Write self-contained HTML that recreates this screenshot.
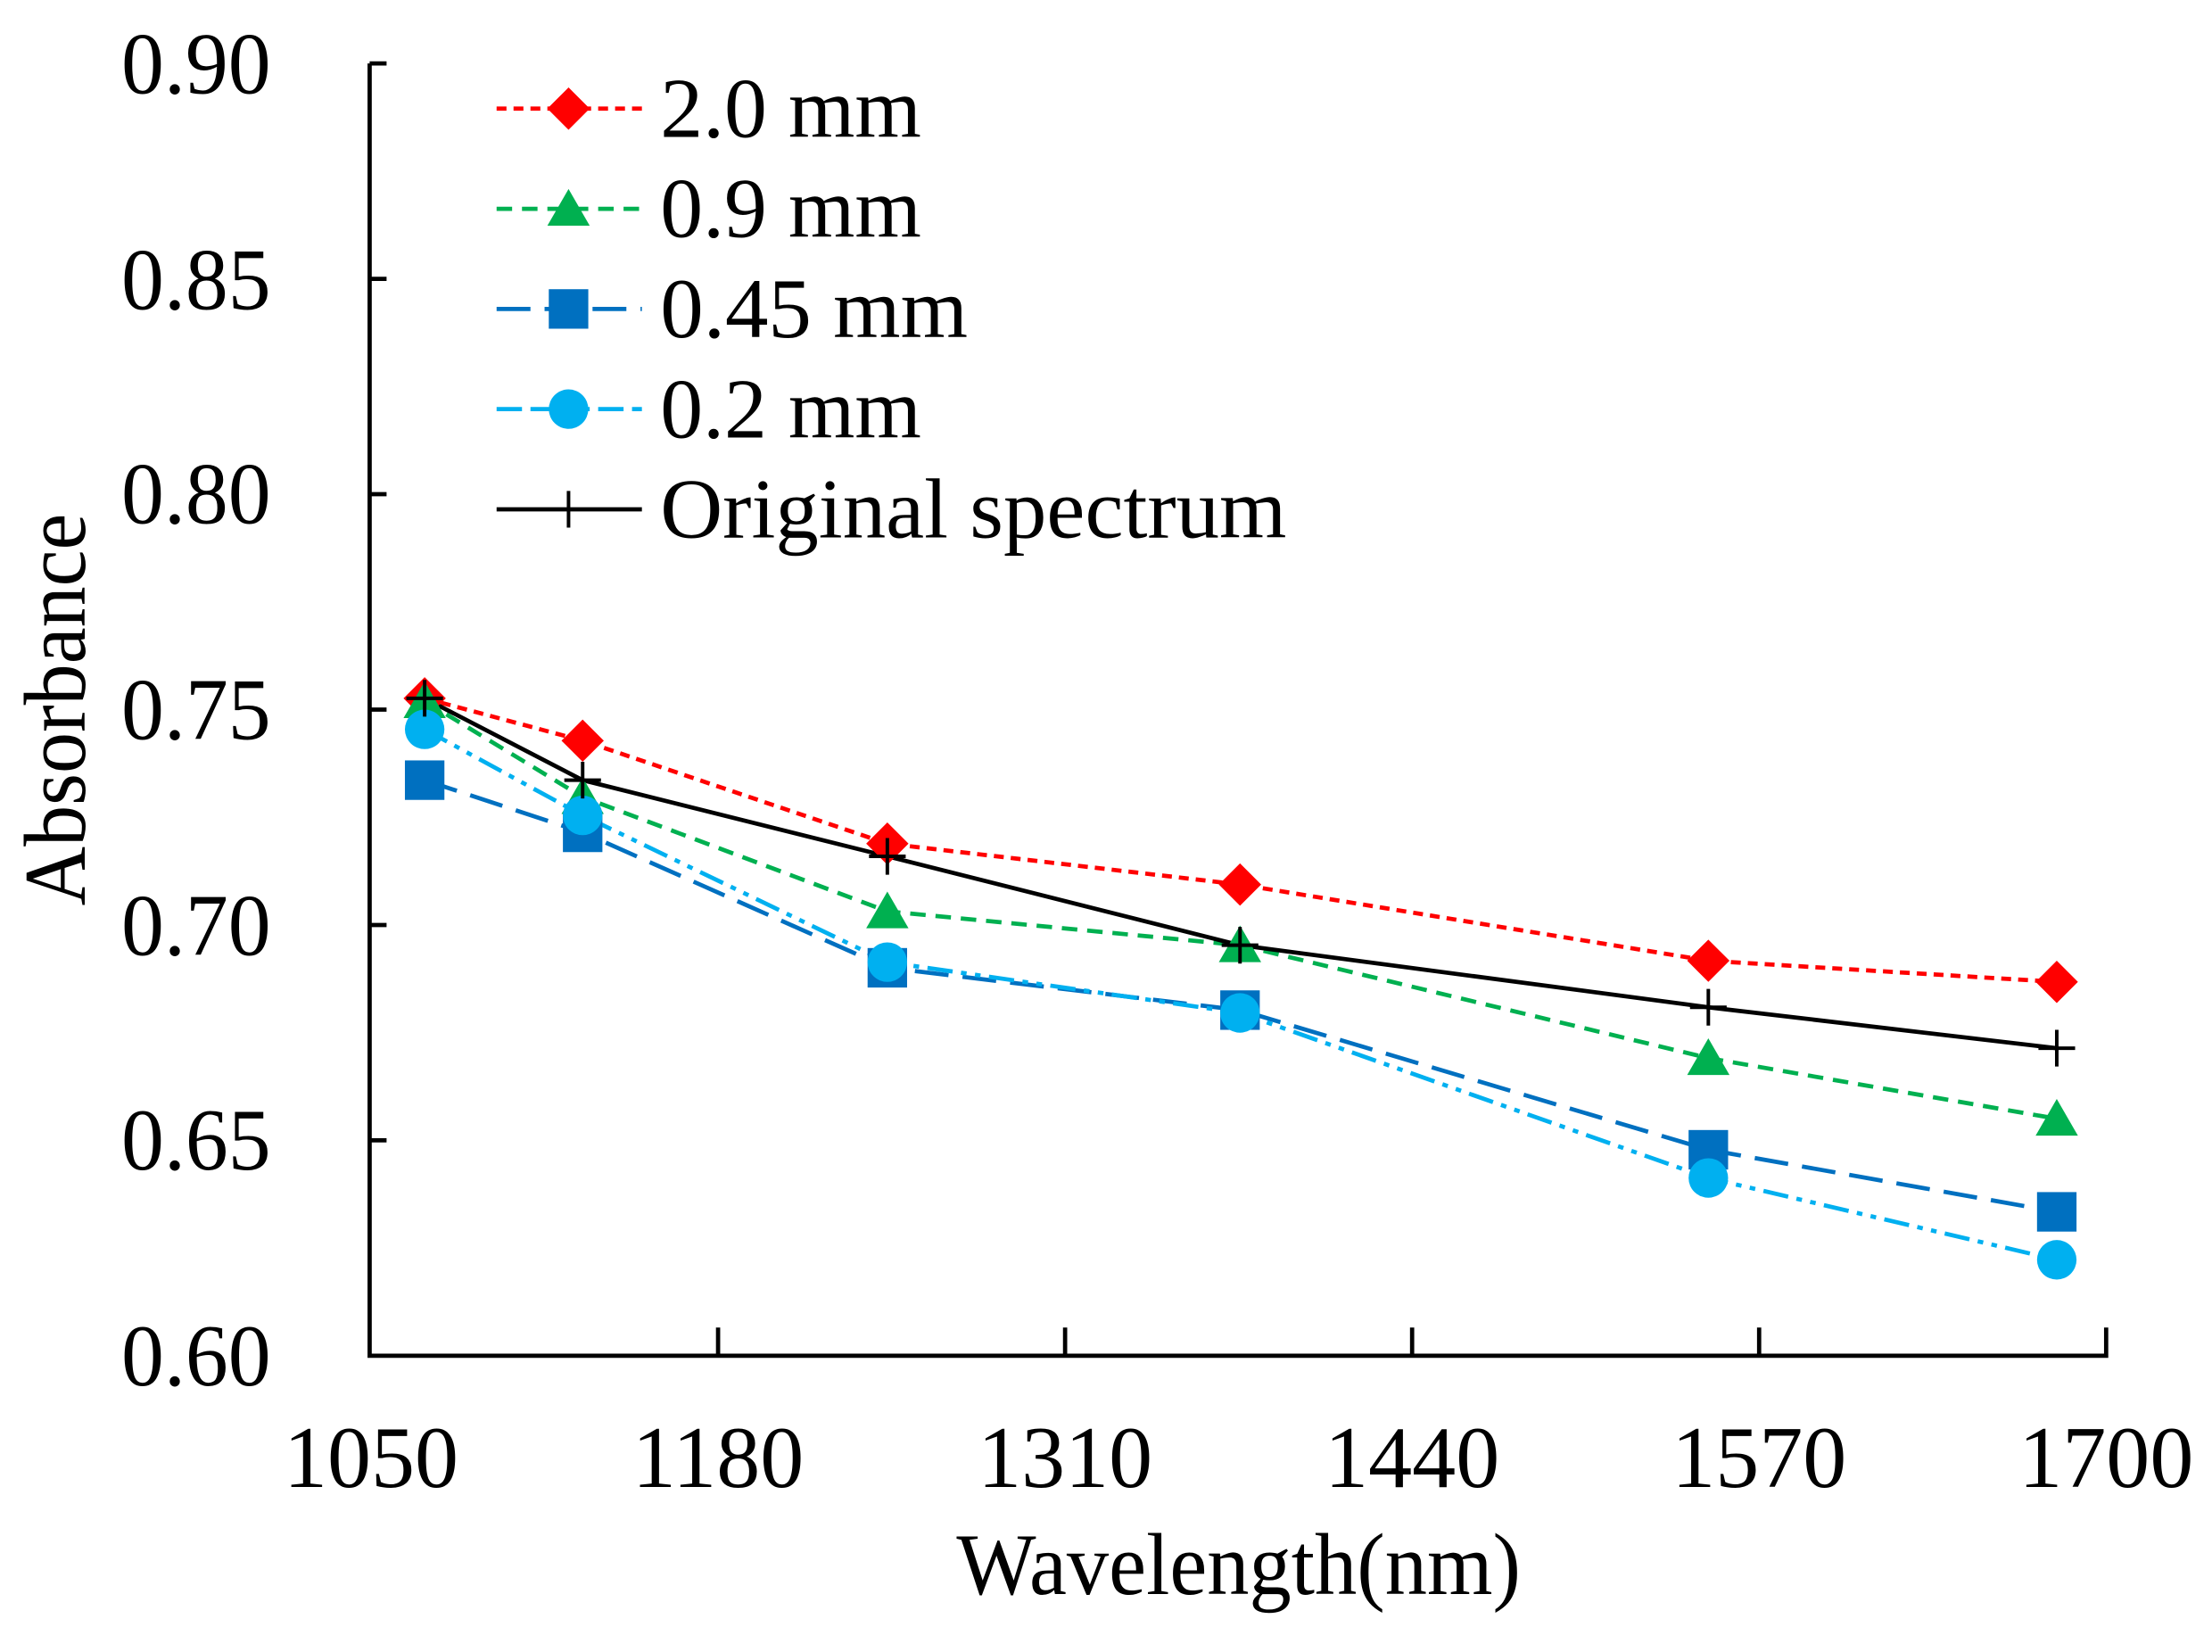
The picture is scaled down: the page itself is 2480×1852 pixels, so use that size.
<!DOCTYPE html>
<html><head><meta charset="utf-8"><style>
html,body{margin:0;padding:0;background:#fff;}
svg{display:block;}
text{font-family:"Liberation Serif",serif;fill:#000;}
</style></head><body>
<svg width="2480" height="1852" viewBox="0 0 1568 1171" xmlns="http://www.w3.org/2000/svg">
<rect width="1568" height="1171" fill="#fff"/>
<g stroke="#000" stroke-width="3" fill="none">
<path d="M262,45 V961 H1493 V941"/>
<path d="M262,45 h12 M262,197.7 h12 M262,350.3 h12 M262,503 h12 M262,655.7 h12 M262,808.3 h12"/>
<path d="M509,961 v-20 M755,961 v-20 M1001,961 v-20 M1247,961 v-20"/>
</g>
<g font-size="62" text-anchor="end">
<text x="192" y="66" textLength="106" lengthAdjust="spacingAndGlyphs">0.90</text>
<text x="192" y="219" textLength="106" lengthAdjust="spacingAndGlyphs">0.85</text>
<text x="192" y="371" textLength="106" lengthAdjust="spacingAndGlyphs">0.80</text>
<text x="192" y="524" textLength="106" lengthAdjust="spacingAndGlyphs">0.75</text>
<text x="192" y="677" textLength="106" lengthAdjust="spacingAndGlyphs">0.70</text>
<text x="192" y="829" textLength="106" lengthAdjust="spacingAndGlyphs">0.65</text>
<text x="192" y="982" textLength="106" lengthAdjust="spacingAndGlyphs">0.60</text>
</g>
<g font-size="62" text-anchor="middle">
<text x="263" y="1054">1050</text>
<text x="509" y="1054">1180</text>
<text x="755" y="1054">1310</text>
<text x="1001" y="1054">1440</text>
<text x="1247" y="1054">1570</text>
<text x="1493" y="1054">1700</text>
<text x="878" y="1130" textLength="400" lengthAdjust="spacingAndGlyphs">Wavelength(nm)</text>
<text transform="translate(60,503) rotate(-90)" textLength="278" lengthAdjust="spacingAndGlyphs">Absorbance</text>
</g>
<g fill="none" stroke-width="3">
<polyline stroke="#ff0000" stroke-dasharray="7,5" points="301,495 413,525 629,598 879,627 1211,681 1458,696"/>
<polyline stroke="#00b050" stroke-dasharray="11,7" points="301,497 413,565 629,646 879,670 1211,750 1458,793"/>
<polyline stroke="#0070c0" stroke-dasharray="24,10" points="301,553 413,590 629,686 879,716 1211,815 1458,859"/>
<polyline stroke="#00b0f0" stroke-dasharray="18,6,4,6,4,6" points="301,517 413,578 629,682 879,718 1211,835 1458,893"/>
<polyline stroke="#000" points="301,495 413,553 629,607 879,670 1211,714 1458,743"/>
</g>
<g fill="#ff0000">
<path d="M301,480 l15,15 -15,15 -15,-15z M413,510 l15,15 -15,15 -15,-15z M629,583 l15,15 -15,15 -15,-15z M879,612 l15,15 -15,15 -15,-15z M1211,666 l15,15 -15,15 -15,-15z M1458,681 l15,15 -15,15 -15,-15z"/>
</g>
<g fill="#00b050">
<path d="M301,483 l15,26 h-30z M413,551 l15,26 h-30z M629,632 l15,26 h-30z M879,656 l15,26 h-30z M1211,736 l15,26 h-30z M1458,779 l15,26 h-30z"/>
</g>
<g fill="#0070c0">
<rect x="287" y="539" width="28" height="28"/><rect x="399" y="576" width="28" height="28"/><rect x="615" y="672" width="28" height="28"/><rect x="865" y="702" width="28" height="28"/><rect x="1197" y="801" width="28" height="28"/><rect x="1444" y="845" width="28" height="28"/>
</g>
<g fill="#00b0f0">
<circle cx="301" cy="517" r="14"/><circle cx="413" cy="578" r="14"/><circle cx="629" cy="682" r="14"/><circle cx="879" cy="718" r="14"/><circle cx="1211" cy="835" r="14"/><circle cx="1458" cy="893" r="14"/>
</g>
<g stroke="#000" stroke-width="2.5">
<path d="M301,482v26M288,495h26 M413,540v26M400,553h26 M629,594v26M616,607h26 M879,657v26M866,670h26 M1211,701v26M1198,714h26 M1458,730v26M1445,743h26"/>
</g>
<g fill="none" stroke-width="3">
<path d="M352,77H455" stroke="#ff0000" stroke-dasharray="7,5"/>
<path d="M352,148H455" stroke="#00b050" stroke-dasharray="11,7"/>
<path d="M352,219H455" stroke="#0070c0" stroke-dasharray="24,10"/>
<path d="M352,290H455" stroke="#00b0f0" stroke-dasharray="18,6"/>
<path d="M352,361H455" stroke="#000"/>
</g>
<path d="M403,62 l15,15 -15,15 -15,-15z" fill="#ff0000"/>
<path d="M403,134 l15,26 h-30z" fill="#00b050"/>
<rect x="389" y="205" width="28" height="28" fill="#0070c0"/>
<circle cx="403" cy="290" r="14" fill="#00b0f0"/>
<path d="M403,348v26" stroke="#000" stroke-width="2.5"/>
<g font-size="60">
<text x="468" y="97" textLength="185" lengthAdjust="spacingAndGlyphs">2.0 mm</text>
<text x="468" y="168" textLength="185" lengthAdjust="spacingAndGlyphs">0.9 mm</text>
<text x="468" y="239" textLength="218" lengthAdjust="spacingAndGlyphs">0.45 mm</text>
<text x="468" y="310" textLength="185" lengthAdjust="spacingAndGlyphs">0.2 mm</text>
<text x="468" y="381" textLength="444" lengthAdjust="spacingAndGlyphs">Original spectrum</text>
</g>
</svg>
</body></html>
